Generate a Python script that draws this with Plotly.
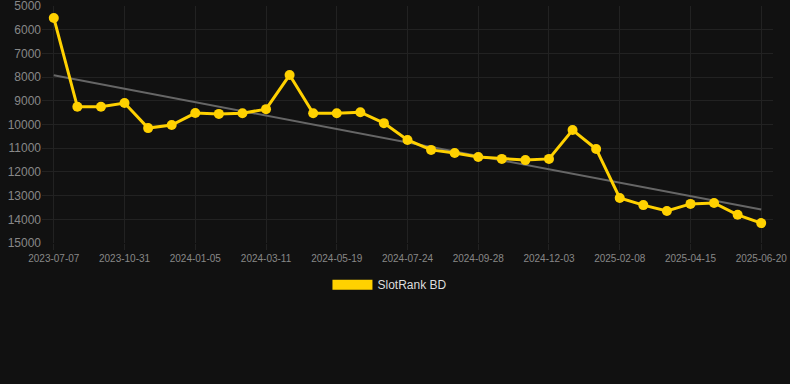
import plotly.graph_objects as go

dates = ["2023-07-07", "2023-08-20", "2023-09-25", "2023-10-31", "2023-11-22", "2023-12-14",
         "2024-01-05", "2024-01-27", "2024-02-18", "2024-03-11", "2024-04-03", "2024-04-26",
         "2024-05-19", "2024-06-10", "2024-07-02", "2024-07-24", "2024-08-15", "2024-09-06",
         "2024-09-28", "2024-10-20", "2024-11-11", "2024-12-03", "2024-12-25", "2025-01-17",
         "2025-02-08", "2025-03-02", "2025-03-24", "2025-04-15", "2025-05-07", "2025-05-29",
         "2025-06-20"]
ranks = [5500, 9250, 9250, 9090, 10150, 10020,
         9515, 9550, 9520, 9350, 7910, 9520,
         9520, 9480, 9940, 10650, 11070, 11200,
         11370, 11450, 11500, 11450, 10230, 11030,
         13100, 13400, 13650, 13350, 13310, 13810,
         14160]
trend_dates = ["2023-07-07", "2025-06-20"]
trend_values = [7920, 13590]
tick_labels = ["2023-07-07", "2023-10-31", "2024-01-05", "2024-03-11", "2024-05-19", "2024-07-24",
               "2024-09-28", "2024-12-03", "2025-02-08", "2025-04-15", "2025-06-20"]
y_ticks = [5000, 6000, 7000, 8000, 9000, 10000, 11000, 12000, 13000, 14000, 15000]
y_tick_text = [str(v) for v in y_ticks]

YELLOW = "#FFD100"
BG = "#111111"

fig = go.Figure()
fig.add_trace(go.Scatter(x=trend_dates, y=trend_values, mode="lines",
                         line=dict(color="#666666", width=2), showlegend=False, hoverinfo="skip"))
fig.add_trace(go.Scatter(x=dates, y=ranks, mode="lines+markers", name="SlotRank BD",
                         line=dict(color=YELLOW, width=3),
                         marker=dict(color=YELLOW, size=10), showlegend=False))
fig.add_trace(go.Scatter(x=[None], y=[None], mode="lines", name="SlotRank BD",
                         line=dict(color=YELLOW, width=12), showlegend=True))

fig.update_layout(
    width=790, height=384,
    paper_bgcolor=BG, plot_bgcolor=BG,
    margin=dict(l=42, r=17, t=6, b=141),
    font=dict(family="Arial, Liberation Sans, sans-serif", color="#888888"),
    xaxis=dict(type="category", categoryorder="array", categoryarray=dates,
               range=[-0.5, 30.5], tickmode="array", tickvals=tick_labels, ticktext=tick_labels,
               showgrid=True, gridcolor="#222222", gridwidth=1, zeroline=False,
               showline=False, tickfont=dict(size=10, color="#888888"),
               ticks="outside", ticklen=6, tickcolor="#222222", automargin=False),
    yaxis=dict(range=[15000, 4995], tickmode="array", tickvals=y_ticks, ticktext=y_tick_text,
               showgrid=True, gridcolor="#222222", gridwidth=1, zeroline=False,
               showline=False, tickfont=dict(size=12, color="#888888"), ticks="",
               ticklabelstandoff=0, ticklabeloverflow="allow", automargin=False),
    legend=dict(orientation="h", x=0.476, xanchor="center", y=-0.115, yanchor="top",
                font=dict(size=12, color="#dddddd"), itemwidth=40,
                bgcolor="rgba(0,0,0,0)"),
    hovermode="closest",
)

fig.write_html("out.html", config={"displayModeBar": False},
               post_script="document.body.style.margin='0';document.body.style.background='#111111';")
